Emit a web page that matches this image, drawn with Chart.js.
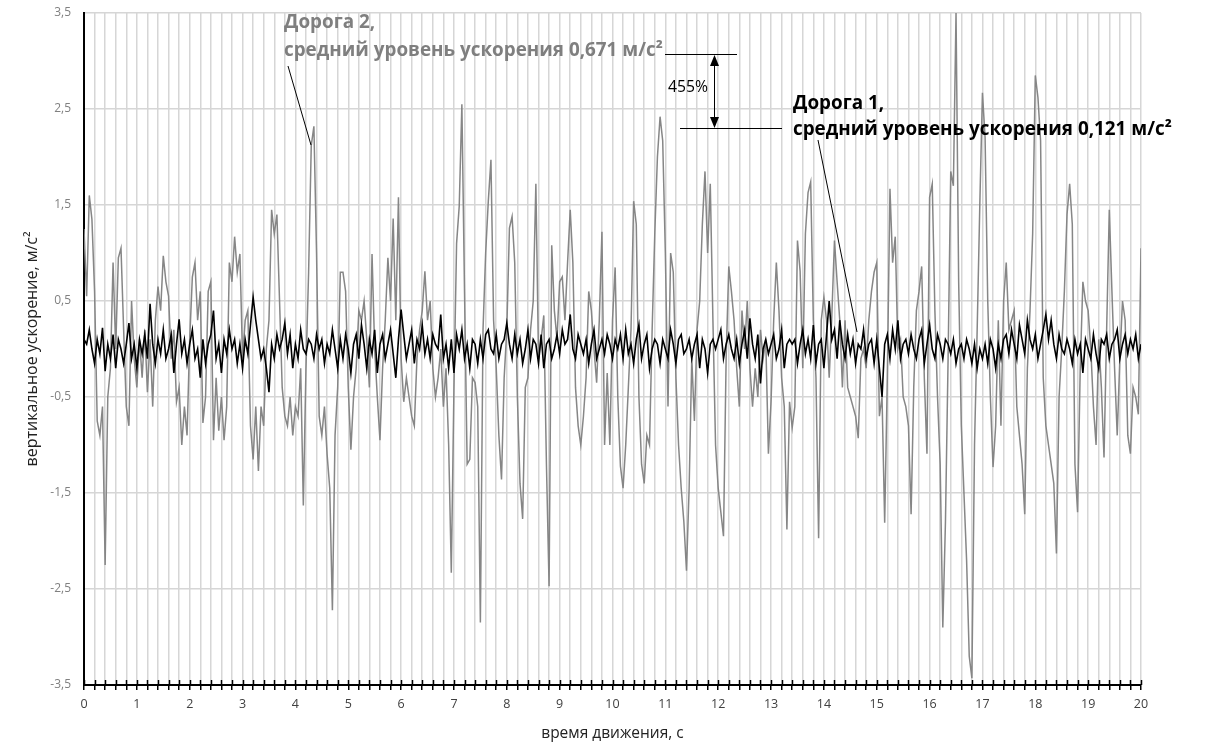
<!DOCTYPE html>
<html>
<head>
<meta charset="utf-8">
<script src="https://cdn.jsdelivr.net/npm/chart.js@4.4.0/dist/chart.umd.min.js"></script>
<style>
  html, body { margin: 0; padding: 0; background: #fff; }
</style>
</head>
<body>
<canvas id="accelChart" width="1206" height="748"></canvas>
<script>
// sampling step, s
const dt = 0.05;

// Дорога 2 (grey), one row per second
const road2 = [
  1.25, 0.55, 1.6, 1.35, 0.6, -0.75, -0.9, -0.6, -2.25, -0.5, -0.2, 0.9, 0.0, 0.95, 1.05, 0.2, -0.6, -0.8, 0.5, -0.1,
  -0.4, 0.1, -0.3, 0.2, -0.45, 0.1, -0.6, 0.3, 0.65, 0.4, 0.97, 0.7, 0.55, -0.1, 0.2, -0.55, -0.4, -1.0, -0.6, -0.9,
  0.1, 0.75, 0.9, 0.3, 0.6, -0.77, -0.5, 0.6, 0.7, -0.95, -0.3, -0.85, -0.5, -0.95, -0.6, 0.9, 0.7, 1.17, 0.8, 0.99,
  -0.1, 0.3, 0.4, -0.8, -1.15, -0.6, -1.27, -0.6, -0.8, 0.0, 0.3, 1.45, 1.2, 1.4, 0.5, -0.4, -0.7, -0.8, -0.5, -0.9,
  -0.6, -0.7, -0.2, -1.63, -0.2, 0.8, 2.12, 2.32, 1.0, -0.7, -0.9, -0.6, -1.1, -1.45, -2.72, -0.9, -0.4, 0.8, 0.8, 0.6,
  -0.4, -1.05, -0.5, -0.2, 0.4, 0.3, 0.5, 0.1, -0.4, 0.99, 0.0, -0.5, -0.95, -0.2, 0.3, 0.95, 0.5, 1.36, 0.3, 1.58,
  -0.1, -0.55, -0.3, -0.5, -0.7, -0.8, -0.1, 0.2, 0.4, 0.81, 0.3, 0.5, -0.2, -0.5, -0.3, 0.0, -0.6, -0.2, -1.0, -2.33,
  -0.4, 1.1, 1.49, 2.55, 0.6, -1.2, -1.15, -0.3, -0.35, -0.6, -2.85, 0.2, 1.0, 1.54, 1.97, 0.3, -0.2, -0.9, -1.36, -0.3,
  0.2, 1.26, 1.38, 0.9, -0.5, -1.4, -1.77, -0.4, -0.3, 0.2, 0.5, 1.72, -0.1, 0.1, 0.35, -1.2, -2.47, 1.08, 0.4, 0.1,
  0.7, 0.75, 0.3, 0.9, 1.45, 0.9, -0.4, -0.8, -1.0, -0.7, -0.3, 0.6, 0.4, 0.0, -0.35, 0.3, 1.22, -1.0, -0.25, -1.0,
  0.3, 0.85, -0.5, -1.22, -1.45, -1.0, -0.4, 0.2, 1.54, 1.3, -0.5, -1.2, -1.4, -0.9, -1.0, 0.2, 1.2, 2.0, 2.42, 2.17,
  1.0, -0.6, 1.0, 0.8, -0.3, -1.0, -1.45, -1.8, -2.31, -1.45, -0.1, -0.75, 0.2, 0.5, 1.3, 1.85, 1.0, 1.72, 0.3, -1.0,
  -1.45, -1.7, -1.95, -0.1, 0.86, 0.6, 0.3, -0.2, -0.6, 0.4, 0.0, 0.5, -0.2, -0.6, -0.2, -0.5, 0.2, -0.1, 0.1, -1.09,
  -0.55, 0.3, 0.9, 0.4, -0.3, -0.6, -1.88, -0.55, -0.82, -0.6, 1.13, 0.81, -0.2, 1.2, 1.63, 1.74, 0.3, -0.3, -1.97, 0.3,
  0.54, 0.3, -0.3, 0.35, 1.13, 0.7, 0.3, -0.4, 0.3, -0.4, -0.5, -0.6, -0.7, -0.93, -0.1, 0.0, -0.2, 0.3, 0.6, 0.8,
  0.9, -0.7, -0.5, -1.81, -0.3, 1.67, 0.9, 1.17, 0.0, 0.1, -0.5, -0.6, -0.8, -1.72, -0.4, 0.4, 0.6, 0.86, -0.3, -1.09,
  1.58, 1.72, 0.4, -0.5, -1.2, -2.9, -1.8, -0.1, 1.85, 1.7, 3.5, 0.7, -0.8, -1.5, -2.2, -3.2, -3.43, -1.0, 0.2, 1.5,
  2.67, 2.2, 0.5, -0.5, -1.23, -0.8, 0.3, -0.8, 0.5, 0.9, 0.2, 0.3, 0.4, -0.6, -0.9, -1.2, -1.72, -0.2, 0.4, 1.2,
  2.85, 2.62, 2.17, -0.3, -0.8, -1.0, -1.2, -1.4, -2.13, -0.5, 0.0, 0.6, 1.4, 1.72, 1.3, -1.2, -1.7, -0.2, 0.7, 0.5,
  0.4, 0.0, -0.6, -1.0, 0.1, -0.4, -1.13, 0.2, 1.45, 0.6, -0.2, -0.9, -0.1, 0.5, 0.3, -0.9, -1.09, -0.4, -0.5, -0.68,
  1.05
];

// Дорога 1 (black), one row per second
const road1 = [
  0.1, 0.05, 0.2, 0.0, -0.15, 0.1, -0.05, 0.22, -0.23, 0.05, -0.1, 0.15, -0.2, 0.1, 0.0, -0.15, 0.05, 0.27, -0.1, 0.05,
  -0.2, 0.1, -0.05, 0.15, -0.1, 0.47, 0.05, -0.15, 0.1, -0.05, 0.2, -0.1, 0.0, 0.15, -0.25, 0.05, 0.31, -0.05, 0.1, -0.15,
  0.05, 0.2, -0.1, 0.0, -0.3, 0.1, -0.15, 0.05, 0.15, 0.4, -0.1, 0.05, -0.25, 0.1, -0.05, 0.2, 0.0, 0.1, -0.15, 0.05,
  -0.2, 0.1, -0.05, 0.25, 0.54, 0.3, 0.1, -0.1, 0.0, -0.2, -0.45, 0.05, -0.1, 0.15, 0.0, 0.1, 0.27, -0.05, 0.15, -0.2,
  0.05, -0.1, 0.2, 0.0, -0.05, 0.1, 0.05, -0.1, 0.15, 0.0, 0.1, -0.15, 0.05, -0.05, 0.2, 0.0, -0.2, 0.1, -0.1, 0.15,
  0.0, -0.25, 0.05, 0.15, -0.1, 0.25, 0.05, -0.2, 0.1, -0.05, 0.2, -0.25, 0.05, 0.15, -0.1, 0.05, 0.2, -0.05, -0.3, 0.1,
  0.41, 0.15, -0.1, 0.05, 0.2, -0.15, 0.1, 0.0, 0.25, -0.05, 0.1, -0.1, 0.15, 0.05, 0.0, 0.36, -0.1, 0.05, -0.2, 0.1,
  -0.25, 0.15, 0.0, 0.2, -0.1, 0.05, -0.2, 0.1, 0.05, -0.15, 0.1, -0.1, 0.15, 0.2, 0.0, -0.05, 0.15, -0.1, 0.05, 0.1,
  0.27, 0.05, -0.1, 0.15, -0.05, 0.1, -0.15, 0.0, 0.2, -0.1, 0.1, 0.05, -0.15, 0.15, -0.2, 0.05, 0.1, -0.1, 0.0, 0.15,
  -0.05, 0.2, 0.05, 0.1, 0.36, 0.0, -0.1, 0.15, 0.05, -0.05, 0.1, -0.15, 0.05, 0.2, -0.1, 0.0, 0.1, -0.05, 0.15, 0.05,
  -0.1, 0.1, 0.0, 0.15, -0.1, 0.2, -0.05, 0.05, -0.15, 0.1, 0.25, -0.1, 0.05, 0.15, -0.2, 0.0, 0.1, 0.05, -0.15, 0.1,
  0.0, -0.1, 0.2, 0.05, -0.15, 0.1, 0.15, -0.05, 0.0, 0.1, -0.1, 0.05, 0.15, -0.2, 0.1, 0.0, -0.25, 0.05, 0.1, 0.0,
  0.1, 0.2, -0.1, 0.05, 0.15, 0.0, -0.1, 0.1, -0.15, 0.05, 0.2, -0.1, 0.32, 0.05, -0.1, 0.15, -0.36, 0.0, 0.1, -0.05,
  0.05, 0.15, -0.1, 0.0, 0.2, -0.2, 0.05, 0.1, 0.05, 0.1, -0.15, 0.05, 0.2, -0.05, 0.1, -0.1, 0.25, -0.15, 0.05, 0.1,
  -0.2, 0.15, 0.5, 0.1, 0.2, -0.1, 0.3, 0.05, -0.1, 0.15, -0.05, 0.1, -0.15, 0.05, 0.0, 0.2, -0.1, 0.05, 0.1, -0.15,
  0.1, -0.2, -0.5, 0.05, 0.15, -0.1, 0.2, 0.0, 0.3, -0.1, 0.05, 0.1, -0.05, 0.15, 0.0, -0.1, 0.1, 0.2, -0.15, 0.05,
  0.25, 0.0, -0.1, 0.15, 0.05, -0.1, 0.1, 0.05, -0.05, 0.1, -0.15, 0.0, 0.05, -0.1, 0.1, 0.0, -0.15, 0.05, -0.2, 0.0,
  -0.1, 0.05, -0.15, 0.1, 0.0, -0.2, 0.05, -0.1, 0.1, 0.15, -0.05, 0.2, 0.05, -0.1, 0.25, 0.1, -0.05, 0.3, 0.1, 0.0,
  0.15, -0.1, 0.05, 0.2, 0.36, 0.1, 0.3, 0.05, -0.1, 0.15, 0.0, -0.05, 0.1, 0.0, -0.15, 0.1, -0.05, 0.05, -0.25, 0.1,
  0.0, -0.1, 0.15, -0.05, -0.2, 0.1, 0.05, 0.15, -0.1, 0.05, 0.1, 0.2, -0.1, 0.05, 0.15, -0.05, 0.1, 0.0, 0.15, -0.1,
  0.05
];

// axis ticks
const yTicks = [-3.5, -2.5, -1.5, -0.5, 0.5, 1.5, 2.5, 3.5];
const xTicks = [];
for (let k = 0; k <= 100; k++) xTicks.push(Math.round(k * 2) / 10);

const FONT = '"Open Sans", "Noto Sans", sans-serif';

// text size so that a line spans the wanted width
function fitSize(ctx, text, width, weight) {
  ctx.font = weight + ' 20px ' + FONT;
  return 20 * width / ctx.measureText(text).width;
}

// crossing tick marks + callouts
const annotate = {
  id: 'annotate',
  afterDraw(chart) {
    const ctx = chart.ctx;
    const xs = chart.scales.x;
    const bottom = chart.chartArea.bottom;
    ctx.save();

    // tick marks above the x axis line
    ctx.strokeStyle = '#000';
    ctx.lineWidth = 1.5;
    xTicks.forEach(v => {
      const px = Math.round(xs.getPixelForValue(v)) + 0.5;
      ctx.beginPath();
      ctx.moveTo(px, bottom - 5);
      ctx.lineTo(px, bottom);
      ctx.stroke();
    });

    const line2a = 'средний уровень ускорения 0,671 м/с²';
    const line2b = 'средний уровень ускорения 0,121 м/с²';
    const size = fitSize(ctx, line2a, 379, 'bold');
    ctx.textBaseline = 'alphabetic';
    ctx.textAlign = 'left';

    // Дорога 2
    ctx.font = 'bold ' + size + 'px ' + FONT;
    ctx.fillStyle = '#7f7f7f';
    ctx.fillText('Дорога 2,', 284, 28);
    ctx.fillText(line2a, 284, 56);

    // Дорога 1
    ctx.fillStyle = '#000';
    ctx.fillText('Дорога 1,', 793, 109);
    ctx.fillText(line2b, 793, 135);

    // leaders and level lines
    ctx.strokeStyle = '#000';
    ctx.lineWidth = 1;
    const seg = (x1, y1, x2, y2) => {
      ctx.beginPath(); ctx.moveTo(x1, y1); ctx.lineTo(x2, y2); ctx.stroke();
    };
    seg(288, 66, 311, 145);
    seg(818, 140, 857, 332);
    seg(665, 54.5, 737, 54.5);
    seg(680, 128.5, 782, 128.5);

    // double arrow
    seg(714.5, 62, 714.5, 120);
    ctx.fillStyle = '#000';
    ctx.beginPath();
    ctx.moveTo(714.5, 55); ctx.lineTo(710, 66); ctx.lineTo(719, 66); ctx.closePath(); ctx.fill();
    ctx.beginPath();
    ctx.moveTo(714.5, 128); ctx.lineTo(710, 117); ctx.lineTo(719, 117); ctx.closePath(); ctx.fill();

    // 455%
    const ps = fitSize(ctx, '455%', 40, 'normal');
    ctx.font = ps + 'px ' + FONT;
    ctx.textAlign = 'center';
    ctx.textBaseline = 'middle';
    ctx.fillText('455%', 688, 88);

    ctx.restore();
  }
};

new Chart(document.getElementById('accelChart'), {
  type: 'line',
  data: {
    datasets: [
      {
        label: 'Дорога 1',
        data: road1.map((v, i) => ({ x: i * dt, y: v })),
        borderColor: '#000',
        borderWidth: 1.6,
        pointRadius: 0,
        tension: 0,
        order: 1
      },
      {
        label: 'Дорога 2',
        data: road2.map((v, i) => ({ x: i * dt, y: v })),
        borderColor: '#868686',
        borderWidth: 1.5,
        pointRadius: 0,
        tension: 0,
        order: 2
      }
    ]
  },
  options: {
    responsive: false,
    animation: false,
    devicePixelRatio: 1,
    layout: { padding: { top: 13, right: 65, left: 0, bottom: 0 } },
    plugins: {
      legend: { display: false },
      tooltip: { enabled: false }
    },
    scales: {
      x: {
        type: 'linear',
        min: 0,
        max: 20,
        afterBuildTicks: s => { s.ticks = xTicks.map(v => ({ value: v })); },
        afterFit: s => { s.height = 63; s.paddingLeft = 0; s.paddingRight = 0; },
        ticks: {
          autoSkip: false,
          maxRotation: 0,
          padding: 7,
          color: '#404040',
          font: { family: FONT, size: 12.5 },
          callback: v => Math.abs(v - Math.round(v)) < 1e-9 ? String(Math.round(v)) : ''
        },
        grid: { color: '#d6d6d6', lineWidth: 1.5, tickColor: '#000', tickLength: 5, tickWidth: 1.5 },
        border: { color: '#000', width: 2 },
        title: {
          display: true,
          text: 'время движения, с',
          color: '#222',
          font: { family: FONT, size: 15.5 },
          padding: { top: 0, bottom: 5 }
        }
      },
      y: {
        min: -3.5,
        max: 3.5,
        afterBuildTicks: s => { s.ticks = yTicks.map(v => ({ value: v })); },
        afterFit: s => { s.width = 84; s.paddingTop = 0; s.paddingBottom = 0; },
        ticks: {
          padding: 13,
          color: '#808080',
          font: { family: FONT, size: 12 },
          callback: v => String(v).replace('.', ',')
        },
        grid: { color: '#d6d6d6', lineWidth: 1.5, drawTicks: false },
        border: { color: '#000', width: 2 },
        title: {
          display: true,
          text: 'вертикальное ускорение, м/с²',
          color: '#222',
          font: { family: FONT, size: 16 },
          padding: { top: 23, bottom: 0 }
        }
      }
    }
  },
  plugins: [annotate]
});
</script>
</body>
</html>
